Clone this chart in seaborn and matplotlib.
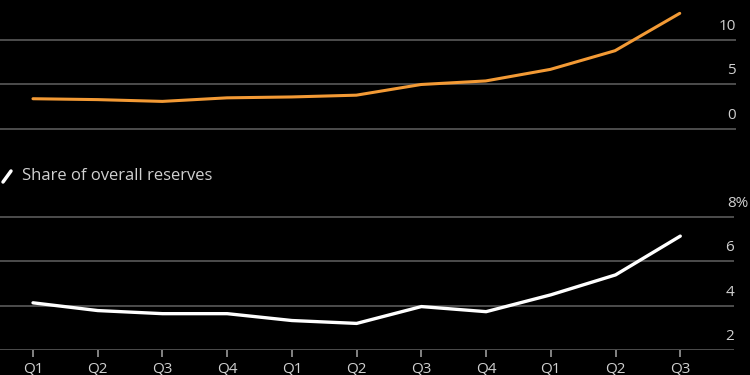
import numpy as np
import matplotlib.pyplot as plt
from matplotlib.lines import Line2D
from matplotlib.transforms import offset_copy
import seaborn as sns

sns.set_theme(style="dark")
plt.rcParams['font.family'] = ['Open Sans', 'DejaVu Sans']

# Data
quarters = ["Q1", "Q2", "Q3", "Q4", "Q1", "Q2", "Q3", "Q4", "Q1", "Q2", "Q3"]
holdings = [3.4, 3.3, 3.1, 3.5, 3.6, 3.8, 5.0, 5.4, 6.7, 8.8, 13.0]
share = [4.13, 3.78, 3.64, 3.64, 3.33, 3.2, 3.96, 3.73, 4.49, 5.39, 7.14]
top_ticks = [0, 5, 10]
bottom_ticks = [2, 4, 6, 8]
legend_label = "Share of overall reserves"

bg = "black"
grid_c = "#5a5a5a"
text_c = "#d0d0d0"
orange = "#f39a35"

fig = plt.figure(figsize=(7.5, 3.75), dpi=100, facecolor=bg)
ax1 = fig.add_axes([0, 1 - 140 / 375, 736 / 750, 140 / 375])
ax2 = fig.add_axes([0, 1 - 350 / 375, 734 / 750, 150 / 375])

x = np.arange(len(quarters))

for ax in (ax1, ax2):
    ax.set_facecolor(bg)
    for s in ax.spines.values():
        s.set_visible(False)

ax1.set_xlim(-0.51, 10.87)
ax2.set_xlim(-0.51, 10.83)

sns.lineplot(x=x, y=holdings, ax=ax1, color=orange, lw=2.2)
sns.lineplot(x=x, y=share, ax=ax2, color="white", lw=2.4)

ax1.set_ylim(-1.24, 14.5)
ax2.set_ylim(2, 8.77)

def right_labels(ax, ticks, last_suffix=""):
    ax.set_yticks([])
    for t in ticks:
        ax.axhline(t, color=grid_c, lw=1.2, zorder=0)
        lab = str(t)
        dx = 0
        if t == ticks[-1] and last_suffix:
            lab = lab + last_suffix
            dx = 14
        tr = offset_copy(ax.get_yaxis_transform(), fig=fig, x=dx, y=6, units='dots')
        ax.text(1.0, t, lab, transform=tr, ha='right', va='bottom',
                color=text_c, fontsize=11)

right_labels(ax1, top_ticks)
right_labels(ax2, bottom_ticks, "%")

ax1.set_xticks([])
ax2.set_xticks(x)
ax2.set_xticklabels(quarters, color=text_c, fontsize=11)
ax2.tick_params(axis='x', bottom=True, direction='out', length=5, width=1.2,
                color="#9a9a9a", pad=3)
ax1.set_xlabel("")
ax2.set_xlabel("")

# legend for lower panel
fig.add_artist(Line2D([3 / 750, 11 / 750], [1 - 182 / 375, 1 - 171 / 375],
                      color="white", lw=2.5, transform=fig.transFigure))
fig.text(22 / 750, 1 - 176 / 375, legend_label, color=text_c, fontsize=12,
         ha='left', va='center')

plt.savefig("out.png", dpi=100, facecolor=bg)
